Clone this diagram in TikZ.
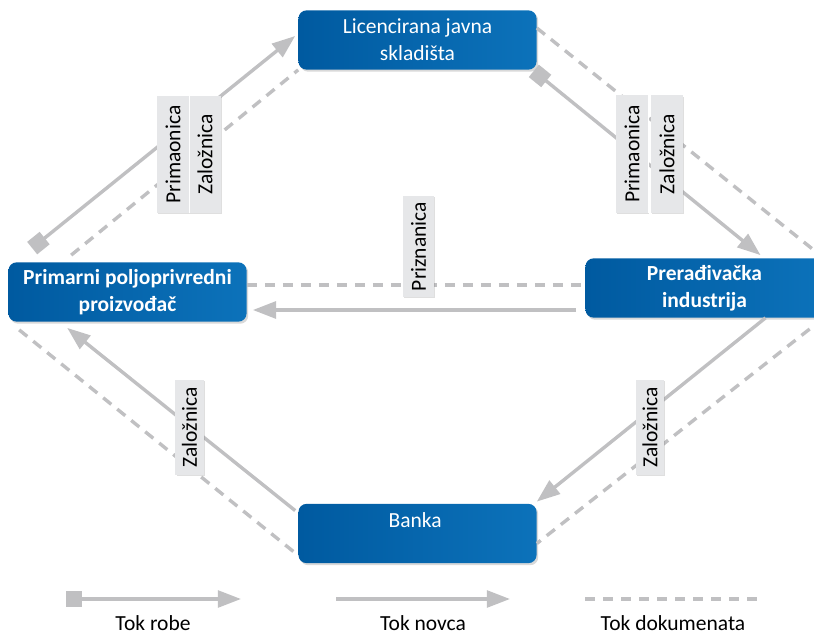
\documentclass[tikz,border=0pt]{standalone}
\usepackage{fontspec}
\setmainfont{Carlito}
\usetikzlibrary{shapes,arrows.meta,positioning,calc,shadows}

\definecolor{flowgray}{RGB}{192,192,194}
\definecolor{boxblue}{RGB}{0,90,160}
\definecolor{boxbluelight}{RGB}{12,114,186}
\definecolor{tagfill}{RGB}{230,231,233}

\tikzset{
    actor/.style={rectangle, rounded corners=0.2cm, text=white, align=center,
        minimum width=5.95cm, minimum height=1.48cm,
        left color=boxblue, right color=boxbluelight,
        drop shadow={opacity=0.3, shadow xshift=1.2pt, shadow yshift=-1.5pt},
        font=\fontsize{15.3}{19}\selectfont},
    tag/.style={rectangle, fill=tagfill, rotate=90, inner sep=0pt,
        minimum width=2.925cm, minimum height=0.8cm,
        drop shadow={opacity=0.25, shadow xshift=1pt, shadow yshift=-1pt},
        font=\fontsize{15.3}{19}\selectfont},
    legendtext/.style={font=\fontsize{15.3}{19}\selectfont},
    flow/.style={draw=flowgray, line width=0.085cm},
    goods/.style={flow, {Square[length=0.4cm,width=0.4cm]}-{Triangle[length=0.58cm,width=0.42cm]}},
    money/.style={flow, -{Triangle[length=0.58cm,width=0.42cm]}},
    docs/.style={flow, dash pattern=on 0.26cm off 0.19cm},
}

\begin{document}
\begin{tikzpicture}[x=0.025cm, y=-0.025cm]
    \useasboundingbox (0,0) rectangle (814,636);

    %-----Actors-----
    % Licencirana javna skladista
    \node [actor] (lic) at (417.5,40) {%
        Licencirana javna \\
        skladišta
    };

    % Primarni proizvodac
    \node [actor, font=\fontsize{15.3}{19}\selectfont\bfseries] (prim) at (127.5,292) {%
        Primarni poljoprivredni \\
        proizvođač
    };

    % Preradivacka industrija
    \node [actor, font=\fontsize{15.3}{19}\selectfont\bfseries] (prer) at (704.5,288) {%
        Prerađivačka \\
        industrija
    };

    % Banka
    \node [actor, text height=0.4cm, text depth=0.72cm] (banka) at (417.5,533.5) {%
        Banka
    };

    %-----Flows-----
    % proizvodac -> skladista
    \draw [goods] ($(prim.north west)+(24,-14)$) -- ($(lic.west)+(-3,-4)$);
    \draw [docs] ($(prim.north west)+(63,-7)$) -- (lic.south west);

    % skladista -> industrija
    \draw [docs] ($(lic.east)+(0,-12)$) -- (prer.north east);
    \draw [goods] ($(lic.south east)+(-3,1)$) -- ($(prer.north)+(56,-3)$);

    % industrija -> proizvodac
    \draw [docs] ($(prim.east)+(0,-7)$) -- ($(prer.west)+(0,-3)$);
    \draw [money] ($(prer.west)+(-9,22)$) -- ($(prim.east)+(6,18)$);

    % banka -> proizvodac
    \draw [money] ($(banka.north west)+(-3,7)$) -- ($(prim.south west)+(59,6)$);
    \draw [docs] ($(prim.south west)+(11,8)$) -- ($(banka.south west)+(0,-8)$);

    % industrija -> banka
    \draw [money] ($(prer.south)+(61,0)$) -- ($(banka.north east)+(0,-2)$);
    \draw [docs] (prer.south east) -- ($(banka.east)+(0,10)$);

    %-----Documents-----
    % left pair
    \node [tag] (prima) at (173,154.5) {Primaonica};
    \node [tag] (zalla) at (205,154.5) {Založnica};
    \draw [white, line width=1pt] (prima.south west) -- (prima.south east);

    % right pair
    \node [tag] (primb) at (632,154) {Primaonica};
    \node [tag] (zallb) at (667,154) {Založnica};
    \draw [white, line width=1pt] (primb.south west) -- (primb.south east);

    % middle
    \node [tag, minimum width=2.525cm, minimum height=0.775cm] (priz) at (418.5,246.5) {Priznanica};

    % bottom
    \node [tag, minimum width=2.375cm, minimum height=0.7cm] (zallc) at (189.5,427.5) {Založnica};
    \node [tag, minimum width=2.375cm, minimum height=0.7cm] (zalld) at (650,427.5) {Založnica};

    %-----Legend-----
    \coordinate (robeA) at (66,599);
    \coordinate (robeB) at (241,599);
    \coordinate (novcaA) at (336,599);
    \coordinate (novcaB) at (510,599);
    \coordinate (dokA) at (585,599);
    \coordinate (dokB) at (760,599);

    \draw [goods] (robeA) -- (robeB);
    \draw [money] (novcaA) -- (novcaB);
    \draw [docs] (dokA) -- (dokB);

    \node [legendtext] (robe) at (153,623) {Tok robe};
    \node [legendtext] (novca) at (423,623) {Tok novca};
    \node [legendtext] (dok) at (673,623) {Tok dokumenata};

\end{tikzpicture}
\end{document}
